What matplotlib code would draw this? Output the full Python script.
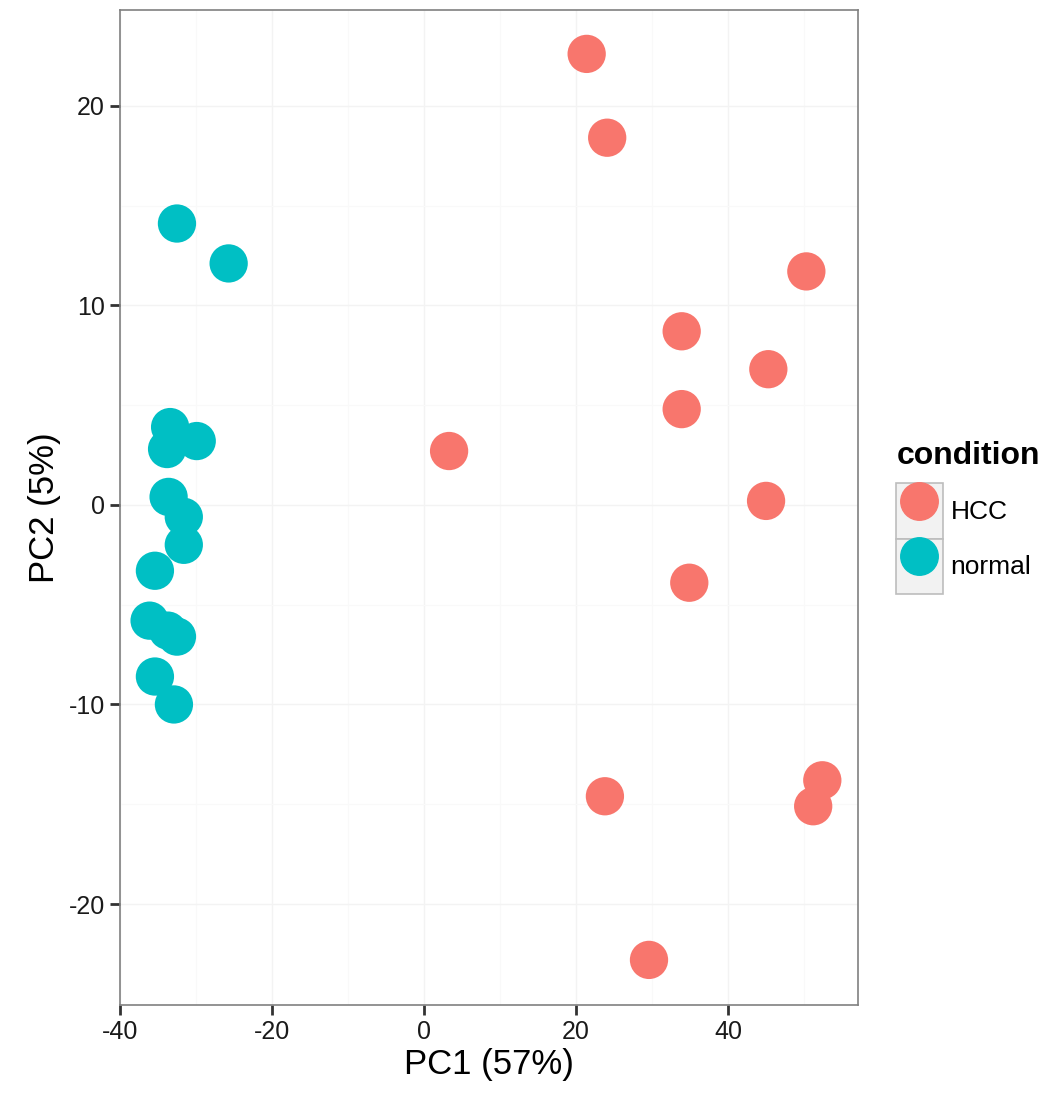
import matplotlib
matplotlib.use("Agg")
import matplotlib.pyplot as plt
from matplotlib.patches import Patch
from matplotlib.lines import Line2D

plt.rcParams['font.family'] = ['Liberation Sans', 'DejaVu Sans']
plt.rcParams['axes.unicode_minus'] = False

# PCA coordinates
hcc_pc1 = [21.4, 24.1, 50.3, 33.9, 45.3, 33.9, 3.3, 45.0, 34.9, 23.8, 52.4, 51.2, 29.6]
hcc_pc2 = [22.6, 18.4, 11.7, 8.7, 6.8, 4.8, 2.7, 0.2, -3.9, -14.6, -13.8, -15.1, -22.8]

normal_pc1 = [-32.5, -25.7, -33.4, -29.9, -33.8, -33.6, -31.6, -31.6, -35.4,
              -36.1, -33.7, -32.5, -35.4, -32.9]
normal_pc2 = [14.1, 12.1, 3.9, 3.2, 2.8, 0.4, -0.6, -2.0, -3.3,
              -5.8, -6.3, -6.6, -8.6, -10.0]

hcc_col = '#F8766D'
normal_col = '#00BFC4'

fig = plt.figure(figsize=(10.55, 10.98), dpi=100)
ax = fig.add_axes([0.1137, 0.0847, 0.6996, 0.9062])

ax.scatter(hcc_pc1, hcc_pc2, s=760, color=hcc_col, edgecolors='none', zorder=3)
ax.scatter(normal_pc1, normal_pc2, s=760, color=normal_col, edgecolors='none', zorder=3)

ax.set_xlim(-40, 57.1)
ax.set_ylim(-25.06, 24.8)
ax.set_xticks([-40, -20, 0, 20, 40])
ax.set_yticks([-20, -10, 0, 10, 20])
ax.set_xticks([-30, -10, 10, 30, 50], minor=True)
ax.set_yticks([-15, -5, 5, 15], minor=True)
ax.grid(True, which='major', color='#f3f3f3', linewidth=1.0, zorder=0)
ax.grid(True, which='minor', color='#f9f9f9', linewidth=0.8, zorder=0)
ax.tick_params(which='minor', length=0)
ax.set_axisbelow(True)

for sp in ax.spines.values():
    sp.set_color('#808080')
    sp.set_linewidth(1.2)

ax.tick_params(which='major', direction='out', length=7, width=2, colors='#333333',
               labelsize=18, labelcolor='#1a1a1a', pad=4)
ax.set_xlabel('PC1 (57%)', fontsize=25, labelpad=3)
ax.set_ylabel('PC2 (5%)', fontsize=25, labelpad=5)

# legend with grey key boxes behind the dots
def key(col):
    box = Patch(facecolor='#f2f2f2', edgecolor='#bdbdbd', linewidth=1.2)
    dot = Line2D([], [], marker='o', markersize=27, color=col, linestyle='none')
    return (box, dot)

leg = ax.legend([key(hcc_col), key(normal_col)], ['HCC', 'normal'],
                title='condition', loc='center left', bbox_to_anchor=(1.034, 0.490),
                frameon=False, fontsize=19, handlelength=1.75, handleheight=2.85,
                handletextpad=0.3, labelspacing=0.0, borderpad=0.0,
                title_fontproperties={'size': 23, 'weight': 'bold'})
leg._legend_box.align = 'left'
leg._legend_box.sep = 9

fig.savefig('out.png', dpi=100)
